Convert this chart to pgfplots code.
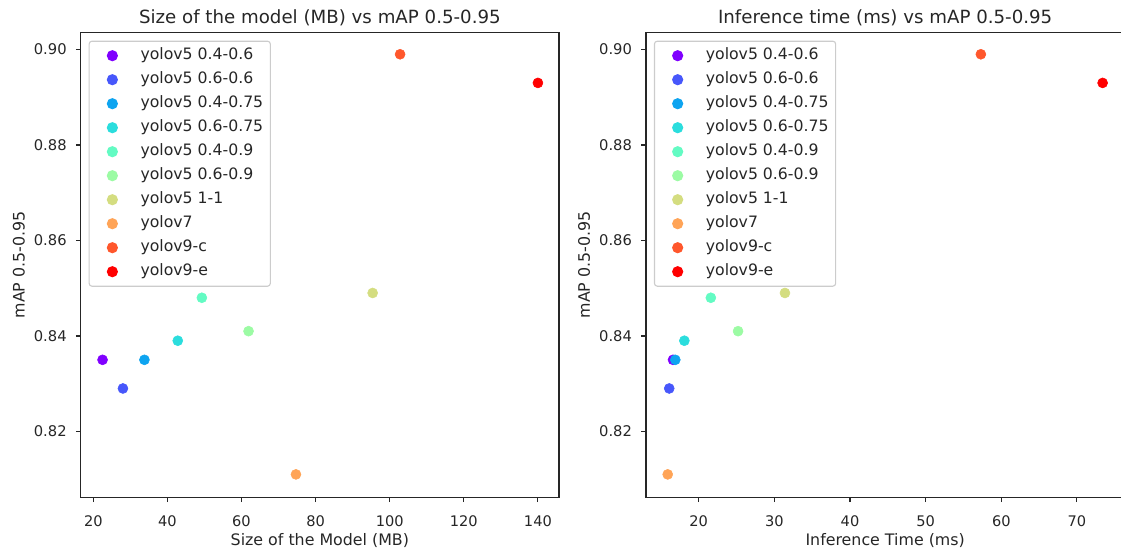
\documentclass[border=0pt]{standalone}
\usepackage{fontspec}
\setmainfont{DejaVu Sans}
\usepackage{pgfplots}
\pgfplotsset{compat=1.18}
\definecolor{c0}{rgb}{0.500,0.000,1.000}
\definecolor{c1}{rgb}{0.278,0.342,0.985}
\definecolor{c2}{rgb}{0.056,0.643,0.940}
\definecolor{c3}{rgb}{0.167,0.866,0.866}
\definecolor{c4}{rgb}{0.389,0.985,0.766}
\definecolor{c5}{rgb}{0.611,0.985,0.643}
\definecolor{c6}{rgb}{0.833,0.866,0.500}
\definecolor{c7}{rgb}{1.000,0.643,0.342}
\definecolor{c8}{rgb}{1.000,0.342,0.174}
\definecolor{c9}{rgb}{1.000,0.000,0.000}
\definecolor{ink}{gray}{0.15}
\pgfplotsset{
  every axis title/.style={at={(axis description cs:0.5,1)}, anchor=base, yshift=6pt, inner sep=0pt, font=\fontsize{13.1}{15}\selectfont, text=ink},
  myaxis/.style={
    scale only axis, width=344.4pt, height=334.8pt,
    anchor=south west,
    ymin=0.8062, ymax=0.9036,
    ytick={0.82,0.84,0.86,0.88,0.90},
    scaled y ticks=false,
    y tick label style={/pgf/number format/.cd, fixed, fixed zerofill, precision=2, /tikz/.cd},
    /pgf/number format/assume math mode=true,
    yticklabel style={anchor=east, inner sep=0pt, xshift=-6.4pt, font=\fontsize{10.6}{12}\selectfont, text=ink},
    xticklabel style={anchor=base, inner sep=0pt, yshift=-17.4pt, font=\fontsize{10.5}{12}\selectfont, text=ink},
    tick pos=left, tick align=outside, major tick length=3.5pt,
    every tick/.style={ink, line width=0.8pt},
    axis line style={ink, line width=0.8pt},
    xlabel style={at={(axis description cs:0.5,0)}, anchor=center, yshift=-31.4pt, inner sep=0pt, font=\fontsize{11.4}{13}\selectfont, text=ink},
    ylabel style={at={(axis description cs:-0.1295,0.5)}, anchor=center, inner sep=0pt, font=\fontsize{11.4}{13}\selectfont, text=ink},
    legend cell align=left,
    legend style={at={(axis description cs:0,1)}, anchor=north west, xshift=5.7pt, yshift=-6pt,
      draw=black!20, line width=0.8pt, fill=white, fill opacity=0.8, text opacity=1, rounded corners=2pt,
      inner xsep=5.1pt, inner ysep=1.8pt, row sep=0pt,
      nodes={inner sep=0pt, text height=8.6pt, text depth=2.7pt, text=ink},
      font=\fontsize{11.3}{13}\selectfont},
    legend image code/.code={\path[draw=none, fill=none, line width=0pt] (-11.6pt,-8.64pt) rectangle (20.3pt,8.64pt); \draw[##1, fill opacity=1, draw opacity=1] plot coordinates {(0pt,0pt)};},
    every axis plot/.append style={only marks, mark=*, mark size=3.6pt},
  }
}
\begin{document}
\begin{tikzpicture}
\begin{axis}[myaxis, at={(58.10pt,39.38pt)},
  xmin=16.6, xmax=145.7, xtick={20,40,60,80,100,120,140},
  title={Size of the model (MB) vs mAP 0.5-0.95},
  xlabel={Size of the Model (MB)}, ylabel={mAP 0.5-0.95}]
\addplot[c0] coordinates {(22.5,0.835)}; \addlegendentry{yolov5 0.4-0.6}
\addplot[c1] coordinates {(28.0,0.829)}; \addlegendentry{yolov5 0.6-0.6}
\addplot[c2] coordinates {(33.8,0.835)}; \addlegendentry{yolov5 0.4-0.75}
\addplot[c3] coordinates {(42.8,0.839)}; \addlegendentry{yolov5 0.6-0.75}
\addplot[c4] coordinates {(49.3,0.848)}; \addlegendentry{yolov5 0.4-0.9}
\addplot[c5] coordinates {(61.9,0.841)}; \addlegendentry{yolov5 0.6-0.9}
\addplot[c6] coordinates {(95.4,0.849)}; \addlegendentry{yolov5 1-1}
\addplot[c7] coordinates {(74.7,0.811)}; \addlegendentry{yolov7}
\addplot[c8] coordinates {(102.8,0.899)}; \addlegendentry{yolov9-c}
\addplot[c9] coordinates {(140.0,0.893)}; \addlegendentry{yolov9-e}
\end{axis}
\begin{axis}[myaxis, at={(465.12pt,39.38pt)},
  xmin=13.03, xmax=76.27, xtick={20,30,40,50,60,70},
  title={Inference time (ms) vs mAP 0.5-0.95},
  xlabel={Inference Time (ms)}, ylabel={mAP 0.5-0.95}]
\addplot[c0] coordinates {(16.6,0.835)}; \addlegendentry{yolov5 0.4-0.6}
\addplot[c1] coordinates {(16.1,0.829)}; \addlegendentry{yolov5 0.6-0.6}
\addplot[c2] coordinates {(16.9,0.835)}; \addlegendentry{yolov5 0.4-0.75}
\addplot[c3] coordinates {(18.1,0.839)}; \addlegendentry{yolov5 0.6-0.75}
\addplot[c4] coordinates {(21.6,0.848)}; \addlegendentry{yolov5 0.4-0.9}
\addplot[c5] coordinates {(25.2,0.841)}; \addlegendentry{yolov5 0.6-0.9}
\addplot[c6] coordinates {(31.4,0.849)}; \addlegendentry{yolov5 1-1}
\addplot[c7] coordinates {(15.9,0.811)}; \addlegendentry{yolov7}
\addplot[c8] coordinates {(57.3,0.899)}; \addlegendentry{yolov9-c}
\addplot[c9] coordinates {(73.4,0.893)}; \addlegendentry{yolov9-e}
\end{axis}
\pgfresetboundingbox
\path[use as bounding box] (0,0) rectangle (807.12pt,397.44pt);
\end{tikzpicture}
\end{document}
